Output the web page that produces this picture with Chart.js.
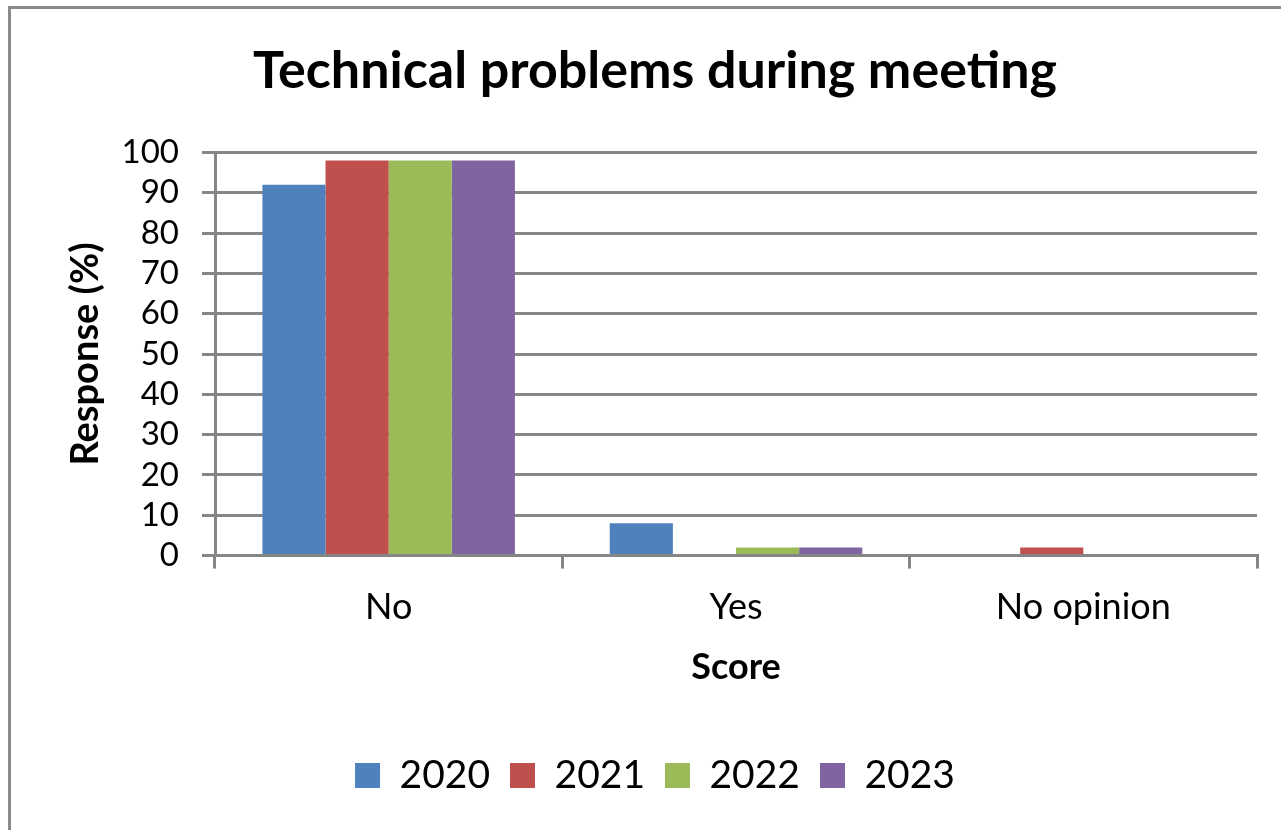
<!DOCTYPE html>
<html>
<head>
<meta charset="utf-8">
<script src="https://cdn.jsdelivr.net/npm/chart.js@4.4.0/dist/chart.umd.min.js"></script>
<style>
  body { margin: 0; background: #fff; }
  #frame { position: absolute; left: 8px; top: 6px; width: 1300px; height: 850px; border: 3px solid #8a8a8a; box-sizing: border-box; }
  #wrap { position: absolute; left: 0; top: 0; width: 1281px; height: 830px; }
</style>
</head>
<body>
<div id="frame"></div>
<div id="wrap"><canvas id="myChart" width="1281" height="830"></canvas></div>
<script>
// chart data
var categories = ["No", "Yes", "No opinion"];
var years = ["2020", "2021", "2022", "2023"];
var v2020 = [92, 8, 0];
var v2021 = [98, 0, 2];
var v2022 = [98, 2, 0];
var v2023 = [98, 2, 0];
var colors = ["#4F81BD", "#C0504D", "#9BBB59", "#8064A2"];

var gridGray = "#868686";
var fontFam = "Lato, 'Open Sans', sans-serif";

var ctx = document.getElementById("myChart");
var myChart = new Chart(ctx, {
	type: 'bar',
	data: {
		labels: categories,
		datasets: [v2020, v2021, v2022, v2023].map(function(vals, i){
			return {
				label: years[i],
				data: vals,
				backgroundColor: colors[i],
				borderWidth: 0,
				barPercentage: 1,
				categoryPercentage: 0.727
			};
		})
	},
	options: {
		responsive: false,
		animation: false,
		layout: { padding: { left: 53, right: 24, top: 0, bottom: 25 } },
		plugins: {
			title: {
				display: true,
				text: "Technical problems during meeting",
				color: "#000",
				font: { family: fontFam, size: 52, weight: "bold" },
				padding: { top: 40, bottom: 50 }
			},
			legend: {
				position: "bottom",
				labels: {
					color: "#000",
					font: { family: fontFam, size: 39 },
					boxWidth: 25,
					boxHeight: 25,
					padding: 20
				}
			},
			tooltip: { enabled: false }
		},
		scales: {
			x: {
				grid: {
					display: true,
					drawOnChartArea: false,
					drawTicks: true,
					tickLength: 13,
					color: gridGray,
					lineWidth: 3
				},
				border: { display: true, color: gridGray, width: 3 },
				ticks: {
					color: "#000",
					font: { family: fontFam, size: 36 },
					padding: 17
				},
				title: {
					display: true,
					text: "Score",
					color: "#000",
					font: { family: fontFam, size: 36, weight: "bold" },
					padding: { top: 0, bottom: 47 }
				}
			},
			y: {
				min: 0,
				max: 100,
				ticks: {
					stepSize: 10,
					autoSkip: false,
					color: "#000",
					font: { family: fontFam, size: 33 },
					padding: 23
				},
				grid: {
					color: gridGray,
					lineWidth: 3,
					drawTicks: true,
					tickLength: 13
				},
				border: { display: true, color: gridGray, width: 3 },
				title: {
					display: true,
					text: "Response (%)",
					color: "#000",
					font: { family: fontFam, size: 38, weight: "bold" },
					padding: { top: 10, bottom: 0 }
				},
				afterFit: function(scale){ scale.width = 215 - 53; }
			}
		}
	}
});
</script>
</body>
</html>
